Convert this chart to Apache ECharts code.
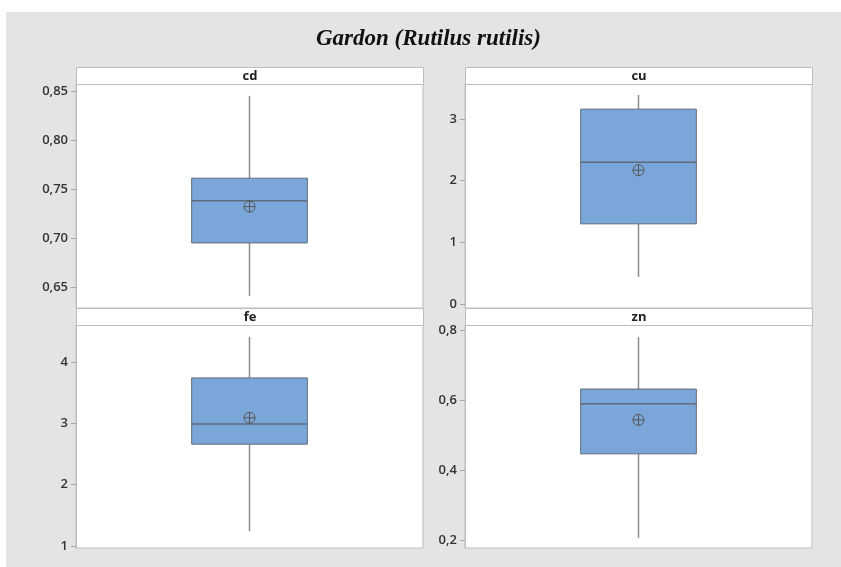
<!DOCTYPE html>
<html>
<head>
<meta charset="utf-8">
<script src="https://cdn.jsdelivr.net/npm/echarts@6.0.0/dist/echarts.min.js"></script>
<style>
  html, body { margin: 0; padding: 0; background: #fff; }
  #chart { width: 841px; height: 567px; }
</style>
</head>
<body>
<div id="chart"></div>
<script>
// Data (one box per element)
const variables = ['cd', 'cu', 'fe', 'zn'];
const whiskerLow = [0.641, 0.44, 1.24, 0.206];
const quartile1 = [0.695, 1.30, 2.66, 0.446];
const medians = [0.738, 2.30, 2.99, 0.589];
const quartile3 = [0.761, 3.16, 3.74, 0.631];
const whiskerHigh = [0.845, 3.39, 4.41, 0.779];
const means = [0.732, 2.17, 3.09, 0.543];

// Tick labels per panel
const cdTicks = [0.65, 0.70, 0.75, 0.80, 0.85];
const cuTicks = [0, 1, 2, 3];
const feTicks = [1, 2, 3, 4];
const znTicks = [0.2, 0.4, 0.6, 0.8];
const tickSets = [cdTicks, cuTicks, feTicks, znTicks];
const tickDecimals = [2, 0, 0, 1];

// Axis extents (panel edges)
const axisMin = [0.6286, -0.065, 0.967, 0.177];
const axisMax = [0.8571, 3.568, 4.603, 0.814];

// Panel layout
const panelLeft = [76, 465, 76, 465];
const panelTop = [84, 84, 325, 325];
const panelWidth = 347;
const panelHeight = [224, 224, 223, 223];
const stripHeight = 17;

const chart = echarts.init(document.getElementById('chart'));

const boxFill = '#7ba6da';
const boxEdge = '#5f6b7a';
const whiskerColor = '#8c8c8c';
const frameColor = '#bdbdbd';
const labelFont = '"Open Sans", "Noto Sans", sans-serif';

const grids = [], xAxes = [], yAxes = [], series = [];
const graphics = [
  // gray panel background
  { type: 'rect', z: -10, shape: { x: 6, y: 12, width: 841, height: 567 }, style: { fill: '#e4e4e4' } },
  {
    type: 'text', left: 316, top: 28,
    style: {
      text: 'Gardon (Rutilus rutilis)',
      font: 'italic bold 23px "Liberation Serif", "DejaVu Serif", serif',
      fill: '#111'
    }
  }
];

variables.forEach((v, i) => {
  grids.push({
    left: panelLeft[i], top: panelTop[i], width: panelWidth, height: panelHeight[i],
    show: true, backgroundColor: '#fff', borderColor: frameColor, borderWidth: 1
  });
  xAxes.push({
    gridIndex: i, type: 'category', data: [v],
    axisLine: { show: false }, axisTick: { show: false }, axisLabel: { show: false }
  });
  yAxes.push({
    gridIndex: i, type: 'value', min: axisMin[i], max: axisMax[i],
    axisLine: { show: true, lineStyle: { color: frameColor } },
    axisTick: { show: true, length: 5, customValues: tickSets[i], lineStyle: { color: '#a8a8a8' } },
    splitLine: { show: false },
    axisLabel: {
      customValues: tickSets[i], margin: 8, verticalAlign: 'middle',
      color: '#333', fontFamily: labelFont, fontSize: 13, fontWeight: 600,
      formatter: val => Number(val).toFixed(tickDecimals[i]).replace('.', ',')
    }
  });
  series.push({
    type: 'custom', xAxisIndex: i, yAxisIndex: i,
    data: [[0, whiskerLow[i], quartile1[i], medians[i], quartile3[i], whiskerHigh[i], means[i]]],
    encode: { x: 0, y: [1, 2, 3, 4, 5, 6] },
    renderItem: (params, api) => {
      const c = api.value(0);
      const pLow = api.coord([c, api.value(1)]);
      const pQ1 = api.coord([c, api.value(2)]);
      const pMed = api.coord([c, api.value(3)]);
      const pQ3 = api.coord([c, api.value(4)]);
      const pHigh = api.coord([c, api.value(5)]);
      const pMean = api.coord([c, api.value(6)]);
      const bw = api.size([1, 0])[0] / 3;
      const x = pQ1[0];
      const r = 5.5;
      return {
        type: 'group',
        children: [
          { type: 'line', shape: { x1: x, y1: pLow[1], x2: x, y2: pQ1[1] }, style: { stroke: whiskerColor, lineWidth: 1.5 } },
          { type: 'line', shape: { x1: x, y1: pQ3[1], x2: x, y2: pHigh[1] }, style: { stroke: whiskerColor, lineWidth: 1.5 } },
          { type: 'rect', shape: { x: x - bw / 2, y: pQ3[1], width: bw, height: pQ1[1] - pQ3[1] }, style: { fill: boxFill, stroke: boxEdge, lineWidth: 1 } },
          { type: 'line', shape: { x1: x - bw / 2, y1: pMed[1], x2: x + bw / 2, y2: pMed[1] }, style: { stroke: boxEdge, lineWidth: 1.5 } },
          { type: 'circle', shape: { cx: x, cy: pMean[1], r: r }, style: { fill: 'none', stroke: '#555', lineWidth: 1 } },
          { type: 'line', shape: { x1: x - r, y1: pMean[1], x2: x + r, y2: pMean[1] }, style: { stroke: '#555', lineWidth: 1 } },
          { type: 'line', shape: { x1: x, y1: pMean[1] - r, x2: x, y2: pMean[1] + r }, style: { stroke: '#555', lineWidth: 1 } }
        ]
      };
    }
  });
  // strip header
  graphics.push({
    type: 'group', left: panelLeft[i], top: panelTop[i] - stripHeight,
    children: [
      { type: 'rect', shape: { x: 0, y: 0, width: panelWidth, height: stripHeight }, style: { fill: '#fff', stroke: frameColor, lineWidth: 1 } },
      {
        type: 'text', x: panelWidth / 2, y: stripHeight / 2,
        style: { text: v, align: 'center', verticalAlign: 'middle', font: 'bold 13px ' + labelFont, fill: '#222' }
      }
    ]
  });
});

chart.setOption({
  backgroundColor: '#fff',
  animation: false,
  grid: grids,
  xAxis: xAxes,
  yAxis: yAxes,
  series: series,
  graphic: graphics
});
</script>
</body>
</html>
